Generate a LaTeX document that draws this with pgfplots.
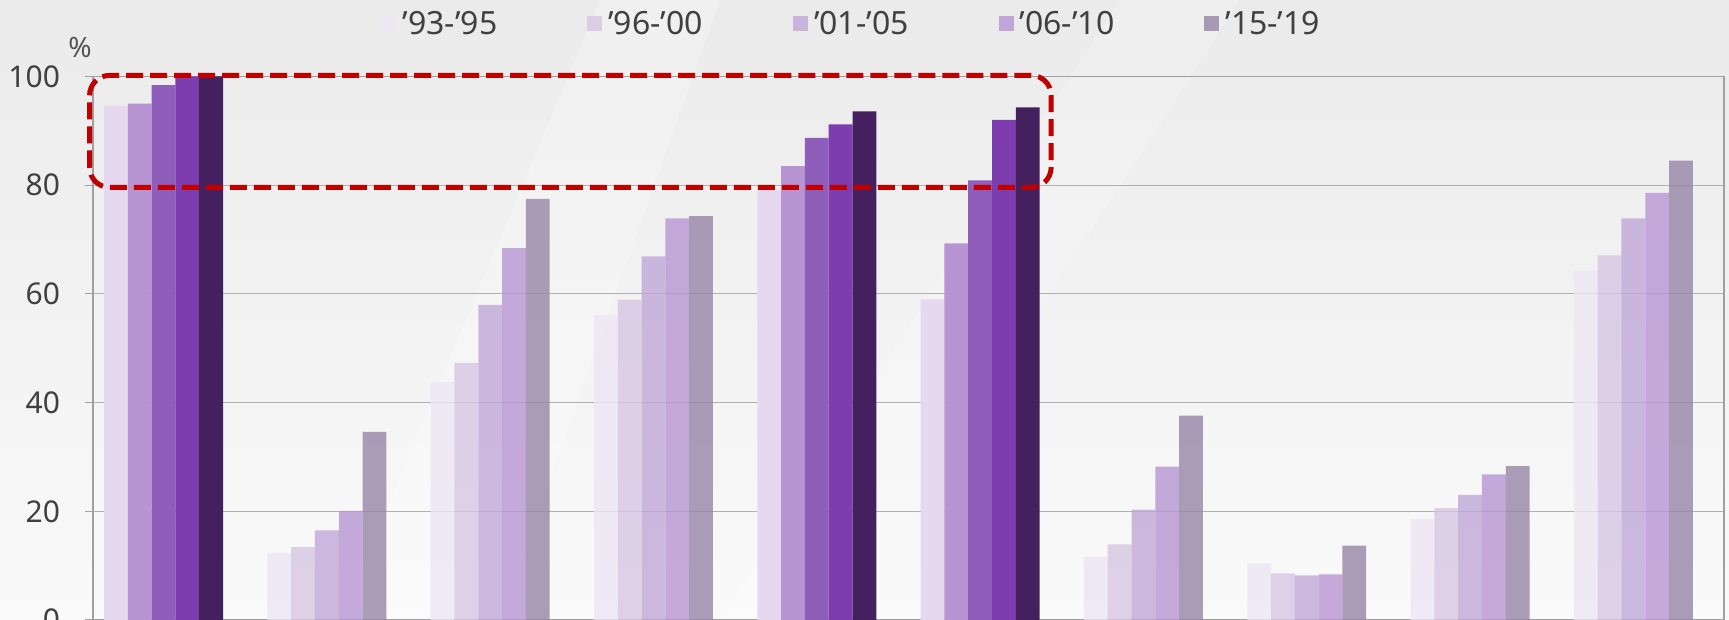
\documentclass[border=0pt]{standalone}
\usepackage{fontspec}
\setmainfont{Noto Sans}
\usepackage{pgfplots}
\pgfplotsset{compat=1.18}

% normal groups (drawn with some transparency)
\definecolor{cA}{HTML}{EDE6F4}
\definecolor{cB}{HTML}{D6C6E3}
\definecolor{cC}{HTML}{C1A8D8}
\definecolor{cD}{HTML}{B795D3}
\definecolor{cE}{HTML}{9785A7}
% highlighted groups
\definecolor{hA}{HTML}{E6D8EF}
\definecolor{hB}{HTML}{B994D2}
\definecolor{hC}{HTML}{8F5DBA}
\definecolor{hD}{HTML}{7D3DAF}
\definecolor{hE}{HTML}{45205E}
\definecolor{txt}{HTML}{404040}
\definecolor{gridc}{HTML}{B0B0B0}
\definecolor{axc}{HTML}{A0A0A0}
\definecolor{hl}{HTML}{C00000}

\pgfplotsset{
  nb/.style={fill=#1, draw=none, fill opacity=0.8,
    legend image code/.code={\fill[##1] (0pt,-3.75pt) rectangle (7.5pt,3.75pt);}},
  hb/.style={fill=#1, draw=none, forget plot},
}

\begin{document}
\begin{tikzpicture}
\useasboundingbox (0,0) rectangle (864.5pt,310pt);
\clip (0,0) rectangle (864.5pt,310pt);
\shade[top color=black!8, bottom color=black!2] (0,0) rectangle (864.5pt,310pt);
\fill[white, opacity=0.25] (300pt,310pt) -- (360pt,310pt) -- (250pt,0pt) -- (170pt,0pt) -- cycle;
\fill[white, opacity=0.2] (560pt,310pt) -- (620pt,310pt) -- (420pt,0pt) -- (360pt,0pt) -- cycle;
\begin{axis}[
    at={(46.5pt,0pt)}, anchor=south west,
    scale only axis,
    width=815.5pt, height=271.75pt,
    ybar, bar width=0.1457,
    xmin=-0.432, xmax=9.555,
    ymin=0, ymax=100,
    xtick=\empty,
    ytick={0,20,40,60,80,100},
    ytick pos=left,
    tick align=outside,
    major tick length=4pt,
    ymajorgrids=true,
    grid style={gridc, line width=0.6pt},
    axis line style={axc, line width=0.7pt},
    tick style={axc, line width=0.6pt},
    ticklabel style={font=\fontsize{15}{17}\selectfont, text=txt},
    yticklabel style={xshift=-9pt},
    /pgf/number format/assume math mode=true,
    clip=false,
    legend columns=-1,
    legend style={draw=none, fill=none, at={(axis description cs:0.1767,1.0966)}, anchor=west,
      font=\fontsize{16}{18}\selectfont, text=txt, inner sep=0pt,
      nodes={inner sep=0pt},
      /tikz/every odd column/.append style={column sep=3pt},
      /tikz/every even column/.append style={column sep=45pt}},
  ]
  % normal groups
  \addplot[nb=cA, bar shift=-0.2914] coordinates {(1,12.3) (2,43.8) (3,56.1) (6,11.6) (7,10.4) (8,18.6) (9,64.3)};
  \addlegendentry{’93-’95}
  \addplot[nb=cB, bar shift=-0.1457] coordinates {(1,13.4) (2,47.3) (3,58.9) (6,13.9) (7,8.6) (8,20.6) (9,67.1)};
  \addlegendentry{’96-’00}
  \addplot[nb=cC, bar shift=0] coordinates {(1,16.5) (2,58.0) (3,66.9) (6,20.3) (7,8.2) (8,23.0) (9,73.9)};
  \addlegendentry{’01-’05}
  \addplot[nb=cD, bar shift=0.1457] coordinates {(1,20.1) (2,68.4) (3,73.9) (6,28.2) (7,8.4) (8,26.8) (9,78.6)};
  \addlegendentry{’06-’10}
  \addplot[nb=cE, bar shift=0.2914] coordinates {(1,34.6) (2,77.5) (3,74.3) (6,37.6) (7,13.7) (8,28.3) (9,84.5)};
  \addlegendentry{’15-’19}
  % highlighted groups
  \addplot[hb=hA, bar shift=-0.2914] coordinates {(0,94.6) (4,79.1) (5,59.0)};
  \addplot[hb=hB, bar shift=-0.1457] coordinates {(0,95.0) (4,83.5) (5,69.3)};
  \addplot[hb=hC, bar shift=0] coordinates {(0,98.4) (4,88.7) (5,80.9)};
  \addplot[hb=hD, bar shift=0.1457] coordinates {(0,100) (4,91.2) (5,92.0)};
  \addplot[hb=hE, bar shift=0.2914] coordinates {(0,100) (4,93.6) (5,94.3)};
  \draw[hl, line width=2.5pt, dash pattern=on 8.5pt off 3.5pt, rounded corners=10pt]
    (axis cs:-0.453,79.6) rectangle (axis cs:5.435,100.2);
\end{axis}
\node[font=\bfseries\fontsize{14}{16}\selectfont, text=txt!90] at (40pt,286pt) {\%};
\end{tikzpicture}
\end{document}
